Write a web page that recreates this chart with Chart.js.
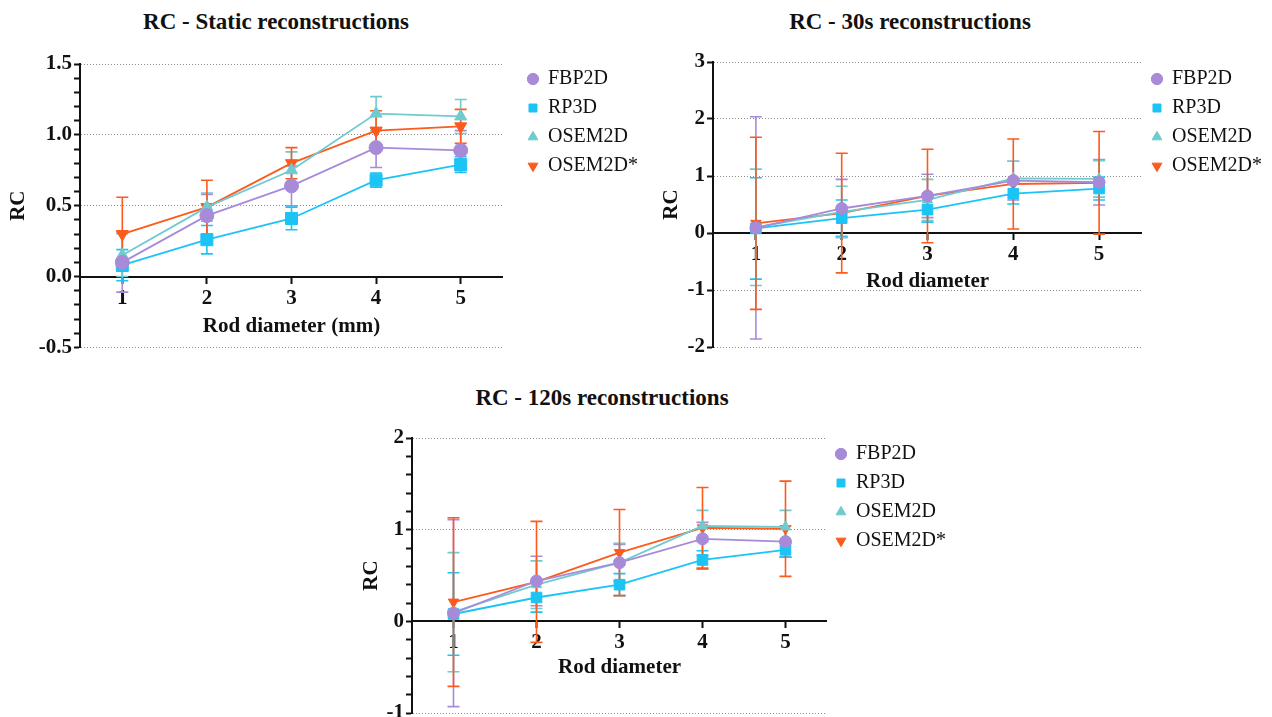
<!DOCTYPE html>
<html>
<head>
<meta charset="utf-8">
<title>RC reconstructions</title>
<script src="https://cdn.jsdelivr.net/npm/chart.js@4.4.1/dist/chart.umd.min.js"></script>
<style>
  html, body { margin: 0; padding: 0; background: #fff; width: 1272px; height: 717px; overflow: hidden; }
  .panel { position: absolute; }
  .title { position: absolute; font-family: 'Liberation Serif', serif; font-weight: bold; font-size: 23px; color: #111; text-align: center; white-space: nowrap; line-height: 1; }
  .preload { position: absolute; left: -500px; top: 0; font-family: 'Liberation Serif', serif; font-size: 20px; }
</style>
</head>
<body>
<div class="preload">OSEM2D* <b>RC 0.5</b></div>
<div class="title" style="left:76px; top:10px; width:400px;">RC - Static reconstructions</div>
<div class="title" style="left:710px; top:10px; width:400px;">RC - 30s reconstructions</div>
<div class="title" style="left:402px; top:386px; width:400px;">RC - 120s reconstructions</div>

<div class="panel" style="left:0; top:0;"><canvas id="staticChart" width="650" height="362"></canvas></div>
<div class="panel" style="left:640px; top:0;"><canvas id="chart30s" width="632" height="362"></canvas></div>
<div class="panel" style="left:340px; top:375px;"><canvas id="chart120s" width="616" height="360"></canvas></div>

<script>
// Data
const categories = ['1', '2', '3', '4', '5'];
const seriesNames = ['FBP2D', 'RP3D', 'OSEM2D', 'OSEM2D*'];

// Static reconstructions (mean, error)
const staticFBP2D = [0.10, 0.43, 0.64, 0.91, 0.89];
const staticFBP2DErr = [0.21, 0.15, 0.14, 0.14, 0.14];
const staticRP3D = [0.08, 0.26, 0.41, 0.68, 0.79];
const staticRP3DErr = [0.11, 0.10, 0.08, 0.05, 0.055];
const staticOSEM2D = [0.15, 0.49, 0.75, 1.15, 1.13];
const staticOSEM2DErr = [0.15, 0.10, 0.13, 0.12, 0.12];
const staticOSEM2Ds = [0.30, 0.49, 0.80, 1.03, 1.06];
const staticOSEM2DsErr = [0.26, 0.19, 0.11, 0.14, 0.12];

// 30s reconstructions
const fast30FBP2D = [0.09, 0.43, 0.65, 0.92, 0.89];
const fast30FBP2DErr = [1.95, 0.51, 0.38, 0.34, 0.40];
const fast30RP3D = [0.08, 0.26, 0.41, 0.69, 0.78];
const fast30RP3DErr = [0.89, 0.32, 0.22, 0.18, 0.20];
const fast30OSEM2D = [0.10, 0.37, 0.58, 0.96, 0.95];
const fast30OSEM2DErr = [1.02, 0.45, 0.36, 0.30, 0.32];
const fast30OSEM2Ds = [0.17, 0.35, 0.65, 0.86, 0.88];
const fast30OSEM2DsErr = [1.51, 1.05, 0.82, 0.79, 0.90];

// 120s reconstructions
const mid120FBP2D = [0.09, 0.44, 0.64, 0.90, 0.87];
const mid120FBP2DErr = [1.02, 0.27, 0.20, 0.18, 0.17];
const mid120RP3D = [0.08, 0.26, 0.40, 0.67, 0.78];
const mid120RP3DErr = [0.45, 0.16, 0.12, 0.10, 0.08];
const mid120OSEM2D = [0.10, 0.40, 0.64, 1.04, 1.03];
const mid120OSEM2DErr = [0.65, 0.26, 0.21, 0.17, 0.18];
const mid120OSEM2Ds = [0.21, 0.43, 0.75, 1.02, 1.01];
const mid120OSEM2DsErr = [0.92, 0.66, 0.47, 0.44, 0.52];

const seriesColors = ['#a78bd9', '#1cc4f6', '#6fcbcf', '#fd5a1c'];
const seriesStyles = ['circle', 'rect', 'triangle', 'triangle'];
const seriesRotation = [0, 0, 0, 180];

const serifFamily = "'Liberation Serif', 'Times New Roman', serif";

// Error bars drawn from the y scale of each chart
const errorBars = {
    id: 'errorBars',
    beforeDatasetsDraw(chart) {
        const ctx = chart.ctx;
        const yScale = chart.scales.y;
        chart.data.datasets.forEach((ds, i) => {
            const meta = chart.getDatasetMeta(i);
            ctx.save();
            ctx.strokeStyle = ds.borderColor;
            ctx.lineWidth = 1.6;
            meta.data.forEach((pt, j) => {
                const hi = yScale.getPixelForValue(ds.data[j] + ds.errors[j]);
                const lo = yScale.getPixelForValue(ds.data[j] - ds.errors[j]);
                const cap = 6;
                ctx.beginPath();
                ctx.moveTo(pt.x, hi); ctx.lineTo(pt.x, lo);
                ctx.moveTo(pt.x - cap, hi); ctx.lineTo(pt.x + cap, hi);
                ctx.moveTo(pt.x - cap, lo); ctx.lineTo(pt.x + cap, lo);
                ctx.stroke();
            });
            ctx.restore();
        });
    }
};

function buildChart(id, cfg) {
    const tickFont = { family: serifFamily, size: 21, weight: 'bold' };
    const axisFont = { family: serifFamily, size: 21, weight: 'bold' };
    const isMajor = v => Math.abs(v / cfg.major - Math.round(v / cfg.major)) < 1e-6;

    const datasets = seriesNames.map((name, i) => ({
        label: name,
        data: cfg.values[i],
        errors: cfg.errors[i],
        borderColor: seriesColors[i],
        backgroundColor: seriesColors[i],
        pointBackgroundColor: seriesColors[i],
        pointBorderColor: seriesColors[i],
        pointBorderWidth: 1,
        pointStyle: seriesStyles[i],
        pointRotation: seriesRotation[i],
        pointRadius: seriesStyles[i] === 'rect' ? cfg.radius + 1.5 : cfg.radius,
        borderWidth: 1.8,
        tension: 0,
        xAxisID: 'x',
        yAxisID: 'y'
    }));

    return new Chart(document.getElementById(id), {
        type: 'line',
        data: { labels: categories, datasets: datasets },
        plugins: [errorBars],
        options: {
            responsive: false,
            animation: false,
            devicePixelRatio: 1,
            layout: { padding: cfg.padding },
            plugins: {
                tooltip: { enabled: false },
                legend: {
                    position: 'right',
                    align: 'start',
                    maxWidth: 220,
                    labels: {
                        usePointStyle: true,
                        boxWidth: 10,
                        boxHeight: 8,
                        padding: 9,
                        color: '#111',
                        font: { family: serifFamily, size: 20, weight: 'normal' }
                    }
                }
            },
            scales: {
                x: {
                    type: 'category',
                    position: { y: 0 },
                    offset: true,
                    grid: { drawOnChartArea: false, tickLength: 6, tickColor: '#111', tickWidth: 2 },
                    border: { color: '#111', width: 2 },
                    ticks: { color: '#111', font: tickFont, padding: 3, autoSkip: false, maxRotation: 0 },
                    title: { display: true, text: cfg.xTitle, color: '#111', font: axisFont, padding: { top: cfg.xTitlePad, bottom: 0 } }
                },
                y: {
                    type: 'linear',
                    min: cfg.min,
                    max: cfg.max,
                    afterFit: s => { s.width = cfg.yWidth; },
                    ticks: {
                        stepSize: cfg.step,
                        autoSkip: false,
                        padding: 2,
                        color: '#111',
                        font: tickFont,
                        callback: v => isMajor(v) ? v.toFixed(cfg.decimals) : ''
                    },
                    grid: {
                        color: c => isMajor(c.tick.value) ? '#8c8c8c' : 'rgba(0,0,0,0)',
                        lineWidth: 1,
                        tickColor: '#111',
                        tickLength: 6,
                        tickWidth: 2
                    },
                    border: { color: '#111', width: 2, dash: [1, 2] },
                    title: { display: true, text: 'RC', color: '#111', font: axisFont, padding: { top: 4, bottom: 4 } }
                },
                topGap: {
                    type: 'linear', axis: 'x', position: 'top',
                    grid: { display: false }, border: { display: false }, ticks: { display: false },
                    afterFit: s => { s.height = cfg.topGap; }
                },
                rightGap: {
                    type: 'linear', axis: 'y', position: 'right',
                    grid: { display: false }, border: { display: false }, ticks: { display: false },
                    afterFit: s => { s.width = cfg.rightGap; }
                }
            }
        }
    });
}

function drawAll() {
    buildChart('staticChart', {
        values: [staticFBP2D, staticRP3D, staticOSEM2D, staticOSEM2Ds],
        errors: [staticFBP2DErr, staticRP3DErr, staticOSEM2DErr, staticOSEM2DsErr],
        min: -0.5, max: 1.5, step: 0.1, major: 0.5, decimals: 1,
        xTitle: 'Rod diameter (mm)', xTitlePad: 0,
        radius: 7,
        yWidth: 78, topGap: 4, rightGap: 16,
        padding: { top: 60, left: 2, right: 2, bottom: 14 }
    });

    buildChart('chart30s', {
        values: [fast30FBP2D, fast30RP3D, fast30OSEM2D, fast30OSEM2Ds],
        errors: [fast30FBP2DErr, fast30RP3DErr, fast30OSEM2DErr, fast30OSEM2DsErr],
        min: -2, max: 3, step: 1, major: 1, decimals: 0,
        xTitle: 'Rod diameter', xTitlePad: -1,
        radius: 6,
        yWidth: 58, topGap: 2, rightGap: 1,
        padding: { top: 60, left: 15, right: 0, bottom: 15 }
    });

    buildChart('chart120s', {
        values: [mid120FBP2D, mid120RP3D, mid120OSEM2D, mid120OSEM2Ds],
        errors: [mid120FBP2DErr, mid120RP3DErr, mid120OSEM2DErr, mid120OSEM2DsErr],
        min: -1, max: 2, step: 0.2, major: 1, decimals: 0,
        xTitle: 'Rod diameter', xTitlePad: -4,
        radius: 6,
        yWidth: 57, topGap: 3, rightGap: 0,
        padding: { top: 60, left: 15, right: 0, bottom: 22 }
    });
}

// wait for the serif faces so the canvas text measures right
Promise.all([
    document.fonts.load("20px 'Liberation Serif'"),
    document.fonts.load("bold 21px 'Liberation Serif'")
]).then(drawAll, drawAll);
</script>
</body>
</html>
